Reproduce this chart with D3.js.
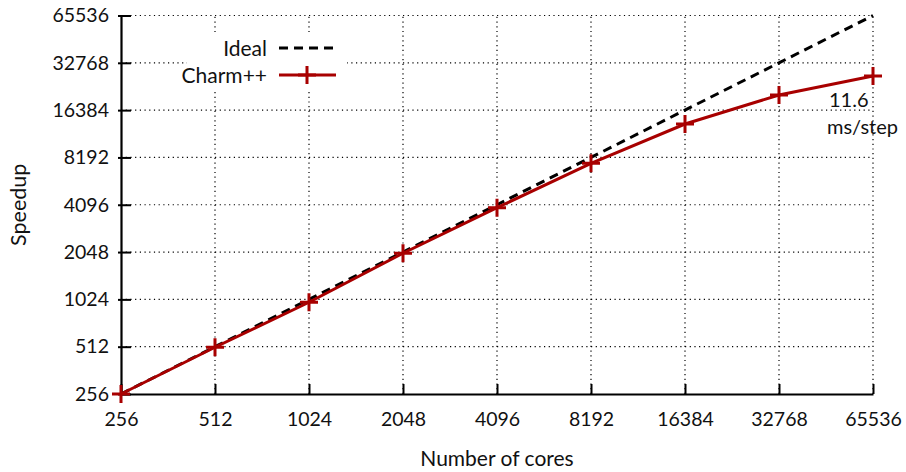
<!DOCTYPE html>
<html><head><meta charset="utf-8">
<script src="https://cdn.jsdelivr.net/npm/d3@7"></script>
<style>
body{margin:0;background:#fff;}
text{font-family:Lato,"Open Sans",sans-serif;fill:#111;}
</style></head>
<body><svg id="c" width="906" height="472"></svg>
<script>
const cores = [256, 512, 1024, 2048, 4096, 8192, 16384, 32768, 65536];
const ideal = [256, 512, 1024, 2048, 4096, 8192, 16384, 32768, 65536];
const charm = [256, 508, 982, 2013, 3923, 7512, 13370, 20450, 27000];
const xTicks = [256, 512, 1024, 2048, 4096, 8192, 16384, 32768, 65536];
const yTicks = [256, 512, 1024, 2048, 4096, 8192, 16384, 32768, 65536];
const seriesNames = ["Ideal", "Charm++"];
const annotation = ["11.6", "ms/step"];

const svg = d3.select("#c");
const m = {l:121, r:33, t:15.5, b:78};
const W = 906, H = 472;
const x = d3.scaleLog().base(2).domain([256, 65536]).range([m.l, W - m.r]);
const y = d3.scaleLog().base(2).domain([256, 65536]).range([H - m.b, m.t]);
const red = "#a80000";

// grid
const g = svg.append("g");
g.selectAll(".gx").data(xTicks.slice(1)).join("line")
  .attr("x1", d => x(d)).attr("x2", d => x(d)).attr("y1", y(256)).attr("y2", y(65536))
  .attr("stroke", "#000").attr("stroke-width", 1.2).attr("stroke-dasharray", "1.2,3.5");
g.selectAll(".gy").data(yTicks.slice(1)).join("line")
  .attr("x1", x(256)).attr("x2", x(65536)).attr("y1", d => y(d)).attr("y2", d => y(d))
  .attr("stroke", "#000").attr("stroke-width", 1.2).attr("stroke-dasharray", "1.2,3.5");

// axes
const xAxis = d3.axisBottom(x).tickValues(xTicks).tickFormat(d3.format("d")).tickSizeInner(-10).tickSizeOuter(0).tickPadding(18);
const yAxis = d3.axisLeft(y).tickValues(yTicks).tickFormat(d3.format("d")).tickSizeInner(-10).tickSizeOuter(0).tickPadding(12);
const ax = svg.append("g").attr("transform", `translate(0,${y(256)})`).call(xAxis);
const ay = svg.append("g").attr("transform", `translate(${x(256)},0)`).call(yAxis);
[ax, ay].forEach(a => {
  a.select(".domain").attr("stroke", "#000").attr("stroke-width", 2.2);
  a.selectAll(".tick line").attr("stroke", "#000").attr("stroke-width", 2);
  a.selectAll(".tick text").attr("font-size", 19.5).attr("fill", "#111").style("font-family", "Lato, sans-serif");
});
ay.selectAll(".tick line").attr("x1", -3);
ax.selectAll(".tick line").attr("y1", 0);

// axis titles
svg.append("text").attr("x", x(4096)).attr("y", 466).attr("text-anchor", "middle").attr("font-size", 21).text("Number of cores");
svg.append("text").attr("transform", `translate(26,${y(4096)}) rotate(-90)`).attr("text-anchor", "middle").attr("font-size", 21.5).text("Speedup");

// lines
const line = d3.line().x((d, i) => x(cores[i])).y(d => y(d));
svg.append("path").datum(ideal).attr("d", line).attr("fill", "none").attr("stroke", "#000").attr("stroke-width", 3).attr("stroke-dasharray", "9,6");
svg.append("path").datum(charm).attr("d", line).attr("fill", "none").attr("stroke", red).attr("stroke-width", 3);
svg.selectAll(".pt").data(charm).join("path")
  .attr("d", "M-9,0H9M0,-9V9")
  .attr("transform", (d, i) => `translate(${x(cores[i])},${y(d)})`)
  .attr("stroke", red).attr("stroke-width", 3).attr("fill", "none");

// annotation
svg.append("text").attr("x", 829).attr("y", 107).attr("font-size", 20).text(annotation[0]);
svg.append("text").attr("x", 827).attr("y", 134).attr("font-size", 20).text(annotation[1]);

// legend
const lg = svg.append("g");
lg.append("rect").attr("x", 187).attr("y", 34).attr("width", 160).attr("height", 57).attr("fill", "#fff");
lg.append("text").attr("x", 267).attr("y", 56).attr("text-anchor", "end").attr("font-size", 21).text(seriesNames[0]);
lg.append("text").attr("x", 267).attr("y", 83).attr("text-anchor", "end").attr("font-size", 21).text(seriesNames[1]);
lg.append("line").attr("x1", 279).attr("x2", 336).attr("y1", 48).attr("y2", 48).attr("stroke", "#000").attr("stroke-width", 3).attr("stroke-dasharray", "9,6");
lg.append("line").attr("x1", 279).attr("x2", 336).attr("y1", 75).attr("y2", 75).attr("stroke", red).attr("stroke-width", 3);
lg.append("path").attr("d", "M-9,0H9M0,-9V9").attr("transform", "translate(307,75)").attr("stroke", red).attr("stroke-width", 3);
</script></body></html>
